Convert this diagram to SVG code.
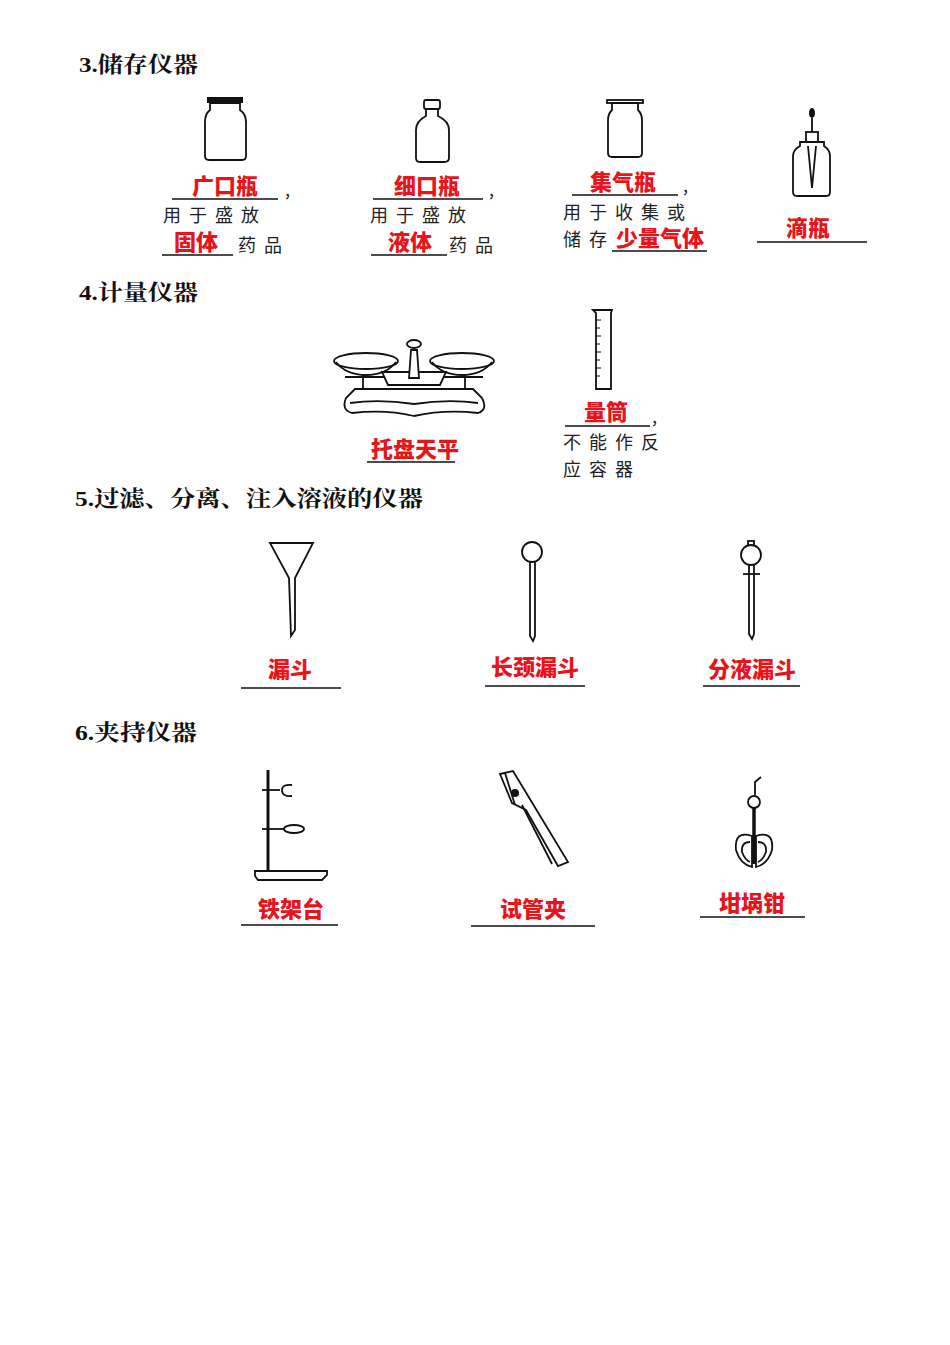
<svg xmlns="http://www.w3.org/2000/svg" width="950" height="1345" viewBox="0 0 950 1345">
<style>
.h{font-family:"Liberation Serif","Noto Serif CJK SC","Noto Sans CJK SC",serif;font-weight:bold;font-size:22px;fill:#111}
.r{font-family:"Noto Sans CJK SC",sans-serif;font-weight:900;font-size:22px;fill:#e8141c;text-anchor:middle}
.t{font-family:"Noto Sans CJK SC",sans-serif;font-size:18px;fill:#222;letter-spacing:8px}
.u{stroke:#111;stroke-width:1.6}
.o{fill:#fff;stroke:#111;stroke-width:1.8}
.l{fill:none;stroke:#111;stroke-width:1.8}
</style>
<rect width="950" height="1345" fill="#fff"/>
<text class="h" x="79" y="72" textLength="119" lengthAdjust="spacingAndGlyphs">3.储存仪器</text>
<text class="h" x="79" y="300" textLength="119" lengthAdjust="spacingAndGlyphs">4.计量仪器</text>
<text class="h" x="75" y="506" textLength="348" lengthAdjust="spacingAndGlyphs">5.过滤、分离、注入溶液的仪器</text>
<text class="h" x="75" y="740" textLength="122" lengthAdjust="spacingAndGlyphs">6.夹持仪器</text>

<g id="guangkouping">
<rect x="207" y="97" width="36" height="6" fill="#111"/>
<path class="o" d="M210,103 L240,103 L240,110 Q246,114 246,122 L246,156 Q246,160 242,160 L209,160 Q205,160 205,156 L205,122 Q205,114 210,110 Z"/>
<text class="r" x="225" y="194">广口瓶</text><line class="u" x1="172" y1="199" x2="278" y2="199"/><text class="t" x="285" y="196">,</text>
<text class="t" x="163" y="222">用于盛放</text>
<text class="r" x="196" y="250">固体</text><line class="u" x1="162" y1="255" x2="233" y2="255"/><text class="t" x="238" y="252">药品</text>
</g>
<g id="xikouping">
<rect class="o" x="424" y="100" width="16" height="9" rx="2"/>
<path class="o" d="M426,109 L438,109 L438,116 Q449,121 449,130 L449,158 Q449,162 444,162 L420,162 Q416,162 416,158 L416,130 Q416,121 426,116 Z"/>
<text class="r" x="427" y="194">细口瓶</text><line class="u" x1="373" y1="199" x2="483" y2="199"/><text class="t" x="489" y="196">,</text>
<text class="t" x="370" y="222">用于盛放</text>
<text class="r" x="410" y="250">液体</text><line class="u" x1="371" y1="255" x2="447" y2="255"/><text class="t" x="449" y="252">药品</text>
</g>
<g id="jiqiping">
<rect class="o" x="607" y="100" width="36" height="3"/>
<path class="o" d="M612,103 L638,103 L638,110 Q642,114 642,120 L642,153 Q642,157 638,157 L612,157 Q608,157 608,153 L608,120 Q608,114 612,110 Z"/>
<text class="r" x="623" y="190">集气瓶</text><line class="u" x1="572" y1="195" x2="678" y2="195"/><text class="t" x="683" y="192">,</text>
<text class="t" x="563" y="219">用于收集或</text>
<text class="t" x="563" y="246">储存</text>
<text class="r" x="660" y="246">少量气体</text><line class="u" x1="612" y1="251" x2="707" y2="251"/>
</g>
<g id="diping">
<ellipse cx="812" cy="113" rx="3" ry="5" fill="#111"/>
<line class="l" x1="812" y1="118" x2="812" y2="132"/>
<rect class="o" x="806" y="132" width="12" height="10"/>
<path class="o" d="M800,142 L824,142 L824,146 Q830,150 830,156 L830,192 Q830,196 826,196 L797,196 Q793,196 793,192 L793,156 Q793,150 800,146 Z"/>
<path class="l" d="M808,146 L812,188 L816,146" stroke-width="1.2"/>
<text class="r" x="808" y="236">滴瓶</text><line class="u" x1="757" y1="242" x2="867" y2="242"/>
</g>

<g id="tianping">
<ellipse class="o" cx="366" cy="361" rx="32" ry="8"/><path class="l" d="M336,362 Q346,375 366,375 Q386,375 396,362"/>
<ellipse class="o" cx="462" cy="361" rx="32" ry="8"/><path class="l" d="M432,362 Q442,375 462,375 Q482,375 492,362"/>
<line class="l" x1="345" y1="377" x2="483" y2="377"/>
<path class="o" d="M382,372 L446,372 L440,385 L388,385 Z"/>
<path class="o" d="M411,350 L417,350 L419,378 L409,378 Z"/><ellipse class="o" cx="414" cy="344" rx="7" ry="4"/>
<line class="l" x1="363" y1="375" x2="363" y2="392"/><line class="l" x1="465" y1="375" x2="465" y2="392"/>
<path class="o" d="M355,389 L473,389 L482,398 Q488,410 478,413 Q445,409 414,416 Q385,409 352,413 Q341,410 346,398 Z"/>
<path class="l" d="M350,403 Q380,399 414,404 Q448,399 478,403"/>
<text class="r" x="415" y="457">托盘天平</text><line class="u" x1="367" y1="462" x2="455" y2="462"/>
</g>
<g id="liangtong">
<path class="o" d="M593,310 L612,310 L611,313 L611,389 L596,389 L596,313 Z"/>
<g stroke="#111" stroke-width="1"><line x1="596" y1="320" x2="601" y2="320"/><line x1="596" y1="328" x2="600" y2="328"/><line x1="596" y1="336" x2="601" y2="336"/><line x1="596" y1="344" x2="600" y2="344"/><line x1="596" y1="352" x2="601" y2="352"/><line x1="596" y1="360" x2="600" y2="360"/><line x1="596" y1="368" x2="601" y2="368"/><line x1="596" y1="376" x2="600" y2="376"/></g>
<text class="r" x="606" y="420">量筒</text><line class="u" x1="565" y1="426" x2="650" y2="426"/><text class="t" x="652" y="423">,</text>
<text class="t" x="563" y="449">不能作反</text>
<text class="t" x="563" y="476">应容器</text>
</g>

<g id="loudou">
<path class="l" d="M270,543 L313,543 L295,578 L295,630 L291,636 L289,578 Z"/>
<text class="r" x="290" y="677">漏斗</text><line class="u" x1="241" y1="688" x2="341" y2="688"/>
</g>
<g id="changjing">
<circle class="o" cx="532" cy="552" r="10"/>
<path class="l" d="M530,561 L530,636 L533,641 L535,636 L535,561"/>
<text class="r" x="535" y="675">长颈漏斗</text><line class="u" x1="485" y1="686" x2="585" y2="686"/>
</g>
<g id="fenye">
<rect class="o" x="748" y="541" width="6" height="5"/>
<ellipse class="o" cx="751" cy="555" rx="10" ry="10"/>
<line class="l" x1="743" y1="574" x2="760" y2="574"/>
<path class="l" d="M749,565 L749,634 L752,639 L754,634 L754,565"/>
<text class="r" x="752" y="677">分液漏斗</text><line class="u" x1="703" y1="686" x2="800" y2="686"/>
</g>

<g id="tiejiatai">
<line x1="268" y1="770" x2="268" y2="872" stroke="#111" stroke-width="3"/>
<line class="l" x1="262" y1="790" x2="280" y2="790" stroke-width="3"/><path class="l" d="M292,785 Q282,784 282,790 Q282,797 292,796"/>
<line class="l" x1="262" y1="829" x2="285" y2="829" stroke-width="3"/><ellipse class="l" cx="294" cy="829" rx="10" ry="4"/>
<path class="o" d="M255,871 L327,871 L327,875 L322,880 L258,880 L255,876 Z"/>
<text class="r" x="291" y="917">铁架台</text><line class="u" x1="241" y1="925" x2="338" y2="925"/>
</g>
<g id="shiguanjia">
<path class="l" d="M500,774 L513,771 L568,862 L558,866 L526,810 L512,803 Z"/>
<line class="l" x1="505" y1="773" x2="515" y2="805"/>
<circle cx="515" cy="793" r="4" fill="#111"/>
<path class="l" d="M522,805 L552,864"/>
<text class="r" x="533" y="917">试管夹</text><line class="u" x1="471" y1="926" x2="595" y2="926"/>
</g>
<g id="ganguoqian">
<path class="l" d="M755,795 L755,782 L761,777" stroke-width="3.5"/>
<circle class="o" cx="754" cy="802" r="6" stroke-width="2.5"/>
<line x1="754" y1="808" x2="754" y2="864" stroke="#111" stroke-width="3.5"/>
<path class="l" stroke-width="2.2" d="M752,836 Q734,830 736,850 Q740,864 752,867 Z"/><path class="l" stroke-width="2.2" d="M756,836 Q774,830 772,850 Q768,864 756,867 Z"/>
<path class="l" d="M750,842 Q741,842 742,852 Q745,860 750,862"/><path class="l" d="M758,842 Q767,842 766,852 Q763,860 758,862"/>
<text class="r" x="752" y="911">坩埚钳</text><line class="u" x1="700" y1="917" x2="805" y2="917"/>
</g>
</svg>
